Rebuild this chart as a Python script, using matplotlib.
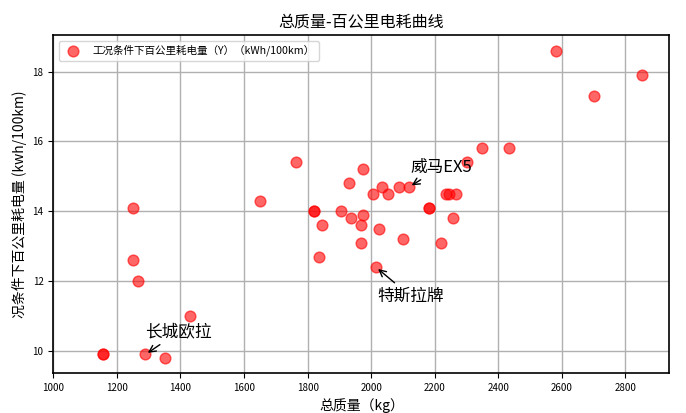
import matplotlib
matplotlib.use('Agg')
import matplotlib.pyplot as plt
from matplotlib.ticker import MultipleLocator

plt.rcParams['font.family'] = ['Noto Sans CJK SC', 'DejaVu Sans']
plt.rcParams['axes.unicode_minus'] = False

# 总质量 (kg) 和 工况条件下百公里耗电量 (kWh/100km)
mass = [1155, 1155, 1290, 1350, 1430, 1250, 1267, 1250, 1650, 1765,
        1820, 1820, 1845, 1835, 1906, 1930, 1935, 1975, 1975, 1968,
        1968, 2007, 2025, 2015, 2035, 2054, 2088, 2100, 2120, 2183,
        2183, 2220, 2235, 2245, 2258, 2268, 2300, 2350, 2435, 2580,
        2700, 2853]
energy = [9.9, 9.9, 9.9, 9.8, 11.0, 12.6, 12.0, 14.1, 14.3, 15.4,
          14.0, 14.0, 13.6, 12.7, 14.0, 14.8, 13.8, 15.2, 13.9, 13.6,
          13.1, 14.5, 13.5, 12.4, 14.7, 14.5, 14.7, 13.2, 14.7, 14.1,
          14.1, 13.1, 14.5, 14.5, 13.8, 14.5, 15.4, 15.8, 15.8, 18.6,
          17.3, 17.9]

# 标注的车型
notes = ['长城欧拉', '威马EX5', '特斯拉牌']
note_xy = [(1290, 9.9), (2120, 14.7), (2015, 12.4)]
note_text = [(1290, 10.42), (2123, 15.14), (2018, 11.45)]

fig = plt.figure(figsize=(6.86, 4.13), dpi=100)
ax = fig.add_axes([0.0777, 0.0961, 0.898, 0.8184])

ax.scatter(mass, energy, s=60, c='red', alpha=0.6,
           label='工况条件下百公里耗电量（Y）（kWh/100km）')

for name, xy, xt in zip(notes, note_xy, note_text):
    ax.annotate(name, xy=xy, xytext=xt, fontsize=12,
                arrowprops=dict(arrowstyle='->', color='black'))

ax.set_xlim(1000, 2938)
ax.xaxis.set_major_locator(MultipleLocator(200))
ax.grid(True, color='#b0b0b0', linewidth=1)
ax.set_axisbelow(True)
ax.tick_params(labelsize=7)
for sp in ax.spines.values():
    sp.set_linewidth(1.2)

ax.set_title('总质量-百公里电耗曲线', fontsize=11.5)
ax.set_xlabel('总质量（kg）', fontsize=10)
ax.set_ylabel('况条件下百公里耗电量 (kwh/100km)', fontsize=10)
ax.legend(loc='upper left', fontsize=7.6)

fig.savefig('out.png', dpi=100)
